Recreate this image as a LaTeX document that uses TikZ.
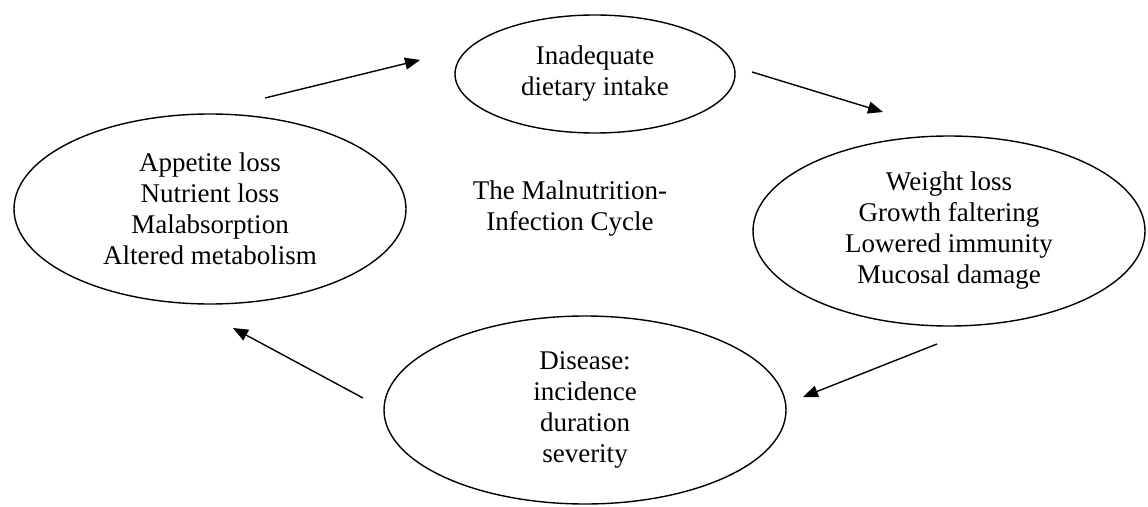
\documentclass[tikz,border=0pt]{standalone}
\usepackage{fontspec}
\setmainfont{Liberation Serif}
\usetikzlibrary{shapes.geometric,arrows.meta}
\begin{document}
\begin{tikzpicture}[x=1pt, y=-1pt,
    bubble/.style={draw, ellipse, line width=1.4pt, align=center, inner sep=0pt, font=\fontsize{27}{31}\selectfont},
    cycarrow/.style={draw, line width=1.4pt, -{Triangle[length=15pt,width=12pt]}}]
    \useasboundingbox(0,0)rectangle(1148,506);
    % ellipses
    \path(595,74)node[bubble, minimum width=280, minimum height=118](intake){Inadequate\\dietary intake};
    \path(949,231)node[bubble, minimum width=392, minimum height=190](effects){Weight loss\\Growth faltering\\Lowered immunity\\Mucosal damage};
    \path(585,410)node[bubble, minimum width=402, minimum height=188](disease){Disease:\\incidence\\duration\\severity};
    \path(210,209)node[bubble, minimum width=392, minimum height=190](losses){Appetite loss\\Nutrient loss\\Malabsorption\\Altered metabolism};
    % title
    \path(570,209)node[align=center, font=\fontsize{27}{31}\selectfont](title){The Malnutrition-\\Infection Cycle};
    % arrow ends
    \coordinate(a1)at(265,98);
    \coordinate(b1)at(420,60);
    \coordinate(a2)at(752,72);
    \coordinate(b2)at(883,112);
    \coordinate(a3)at(937,344);
    \coordinate(b3)at(803,397);
    \coordinate(a4)at(363,398);
    \coordinate(b4)at(233,328);
    % cycle
    \path[cycarrow](a1)to(b1);
    \path[cycarrow](a2)to(b2);
    \path[cycarrow](a3)to(b3);
    \path[cycarrow](a4)to(b4);
\end{tikzpicture}
\end{document}
